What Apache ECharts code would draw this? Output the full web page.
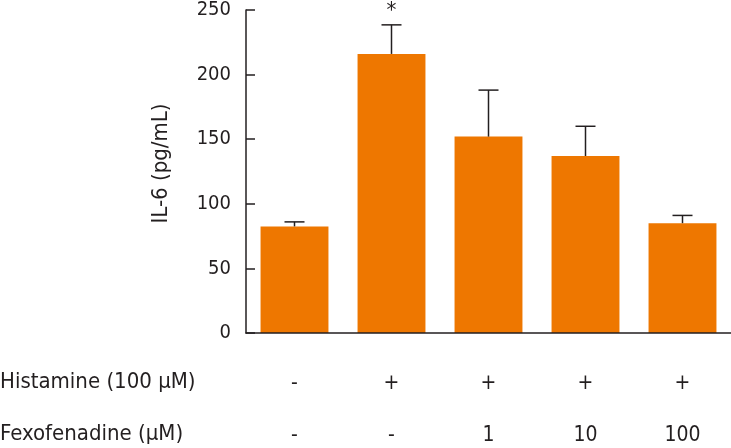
<!DOCTYPE html>
<html>
<head>
<meta charset="utf-8">
<script src="https://cdn.jsdelivr.net/npm/echarts@6/dist/echarts.min.js"></script>
<style>
  html, body { margin: 0; padding: 0; background: #fff; }
  #chart { width: 731px; height: 448px; }
</style>
</head>
<body>
<div id="chart"></div>
<script>
// data
const groups = ['Ctrl', 'His', 'His+Fex1', 'His+Fex10', 'His+Fex100']
const il6Mean = [82.5, 216, 152, 137, 85]
const il6Err = [3.5, 22.5, 36, 23, 6]
const signif = ['', '*', '', '', '']
const histamineRow = ['-', '+', '+', '+', '+']
const fexoRow = ['-', '-', '1', '10', '100']
const yTicks = { min: 0, max: 250, interval: 50 }

const FONT = "'DejaVu Sans Condensed', 'Liberation Sans Narrow', sans-serif"
const INK = '#231f20'
const ORANGE = '#ee7700'

const chart = echarts.init(document.getElementById('chart'))

const rowAxis = (data, offset) => ({
  type: 'category',
  data: data,
  position: 'bottom',
  offset: offset,
  axisLine: { show: false },
  axisTick: { show: false },
  axisLabel: { color: INK, fontFamily: FONT, fontSize: 21, margin: 8 }
})

const option = {
  animation: false,
  grid: { left: 246, right: 0, top: 10, bottom: 115 },
  xAxis: [
    {
      type: 'category',
      data: groups,
      z: 10,
      axisLine: { lineStyle: { color: INK, width: 1.5 } },
      axisTick: { inside: true, length: 10, alignWithLabel: true, lineStyle: { color: INK, width: 1.5 } },
      axisLabel: { show: false }
    },
    rowAxis(histamineRow, 32),
    rowAxis(fexoRow, 84)
  ],
  yAxis: {
    type: 'value',
    min: yTicks.min,
    max: yTicks.max,
    interval: yTicks.interval,
    name: 'IL-6 (pg/mL)',
    nameLocation: 'middle',
    nameGap: 74,
    nameTextStyle: { color: INK, fontFamily: FONT, fontSize: 22, padding: [0, 0, 0, 16] },
    axisLine: { show: true, lineStyle: { color: INK, width: 1.5 } },
    axisTick: { show: true, inside: true, length: 9, lineStyle: { color: INK, width: 1.5 } },
    axisLabel: { color: INK, fontFamily: FONT, fontSize: 20, margin: 15 },
    splitLine: { show: false }
  },
  graphic: [
    { type: 'text', left: 0, top: 371, style: { text: 'Histamine (100 μM)', fill: INK, font: '22px ' + FONT } },
    { type: 'text', left: 0, top: 423, style: { text: 'Fexofenadine (μM)', fill: INK, font: '22px ' + FONT } }
  ],
  series: [
    {
      type: 'bar',
      data: il6Mean,
      barCategoryGap: '30%',
      itemStyle: { color: ORANGE },
      z: 2
    },
    {
      type: 'custom',
      z: 5,
      data: il6Mean.map((m, i) => [i, m, il6Err[i]]),
      renderItem: function (params, api) {
        const i = api.value(0)
        const base = api.coord([i, api.value(1)])
        const top = api.coord([i, api.value(1) + api.value(2)])
        const cap = 10
        const style = { stroke: INK, lineWidth: 1.5 }
        const children = [
          { type: 'line', shape: { x1: base[0], y1: base[1], x2: top[0], y2: top[1] }, style: style },
          { type: 'line', shape: { x1: top[0] - cap, y1: top[1], x2: top[0] + cap, y2: top[1] }, style: style }
        ]
        if (signif[i]) {
          children.push({
            type: 'text',
            style: { text: signif[i], x: top[0], y: top[1] - 3, align: 'center', verticalAlign: 'bottom', fill: INK, font: '22px ' + FONT }
          })
        }
        return { type: 'group', children: children }
      }
    }
  ]
}

chart.setOption(option)
window.addEventListener('resize', chart.resize)
</script>
</body>
</html>
